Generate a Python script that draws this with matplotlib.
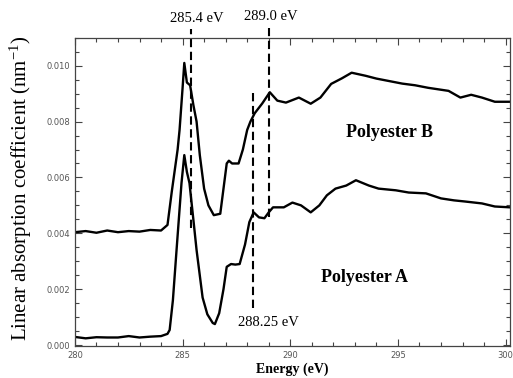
import matplotlib
matplotlib.use("Agg")
import matplotlib.pyplot as plt
from matplotlib.ticker import MultipleLocator

plt.rcParams["mathtext.fontset"] = "custom"
plt.rcParams["mathtext.rm"] = "Liberation Serif"
plt.rcParams["mathtext.it"] = "Liberation Serif:italic"
plt.rcParams["mathtext.bf"] = "Liberation Serif:bold"

# Polyester B (upper curve)
energy_b = [280.0, 280.5, 281.0, 281.5, 282.0, 282.5, 283.0, 283.5, 284.0, 284.3,
            284.5, 284.77, 284.86, 285.0, 285.08, 285.2, 285.35, 285.5, 285.65, 285.8,
            286.0, 286.2, 286.45, 286.75, 286.9, 287.05, 287.15, 287.3, 287.6, 287.8,
            288.0, 288.15, 288.35, 288.7, 289.05, 289.4, 289.8, 290.4, 290.95, 291.4,
            291.9, 292.4, 292.85, 293.5, 294.0, 294.6, 295.2, 295.8, 296.4, 297.35,
            297.9, 298.4, 298.9, 299.5, 300.2]
absorb_b = [0.00404, 0.00408, 0.00402, 0.00410, 0.00404, 0.00408, 0.00406, 0.00412, 0.00410, 0.00430,
            0.00550, 0.00700, 0.00770, 0.00920, 0.01010, 0.00940, 0.00930, 0.00860, 0.00800, 0.00680,
            0.00560, 0.00500, 0.00465, 0.00470, 0.00560, 0.00650, 0.00660, 0.00650, 0.00650, 0.00700,
            0.00770, 0.00800, 0.00830, 0.00865, 0.00905, 0.00875, 0.00868, 0.00886, 0.00864, 0.00886,
            0.00935, 0.00955, 0.00975, 0.00964, 0.00954, 0.00945, 0.00936, 0.00930, 0.00921, 0.00910,
            0.00886, 0.00896, 0.00886, 0.00871, 0.00871]

# Polyester A (lower curve)
energy_a = [280.0, 280.5, 281.0, 281.5, 282.0, 282.5, 283.0, 283.5, 284.0, 284.3,
            284.4, 284.55, 284.72, 284.95, 285.08, 285.2, 285.32, 285.5, 285.65, 285.93,
            286.15, 286.4, 286.5, 286.7, 286.9, 287.05, 287.25, 287.45, 287.65, 287.9,
            288.1, 288.3, 288.55, 288.8, 289.0, 289.2, 289.7, 290.1, 290.5, 290.95,
            291.35, 291.7, 292.1, 292.6, 293.05, 293.65, 294.1, 294.9, 295.5, 296.3,
            297.0, 297.6, 298.1, 298.9, 299.5, 300.2]
absorb_a = [0.00029, 0.00024, 0.00028, 0.00027, 0.00027, 0.00032, 0.00027, 0.00030, 0.00032, 0.00040,
            0.00054, 0.00160, 0.00340, 0.00580, 0.00680, 0.00620, 0.00580, 0.00450, 0.00340, 0.00170,
            0.00110, 0.00079, 0.00075, 0.00114, 0.00200, 0.00280, 0.00290, 0.00288, 0.00290, 0.00360,
            0.00440, 0.00475, 0.00457, 0.00454, 0.00475, 0.00493, 0.00493, 0.00510, 0.00500, 0.00475,
            0.00500, 0.00536, 0.00560, 0.00571, 0.00590, 0.00571, 0.00560, 0.00554, 0.00546, 0.00543,
            0.00525, 0.00518, 0.00514, 0.00507, 0.00496, 0.00493]

# marker lines: energy, bottom, top
marker_energy = [285.4, 289.0, 288.25]
marker_bottom = [0.0042, 0.0046, 0.00132]
marker_top = [0.01132, 0.01135, 0.00904]

serif = ["Liberation Serif", "DejaVu Serif"]

fig = plt.figure(figsize=(5.13, 3.78), dpi=100)
ax = fig.add_axes([0.146, 0.085, 0.848, 0.815])

ax.plot(energy_b, absorb_b, color="black", lw=1.7)
ax.plot(energy_a, absorb_a, color="black", lw=1.7)

for e, lo, hi in zip(marker_energy, marker_bottom, marker_top):
    ax.plot([e, e], [lo, hi], color="black", lw=1.5, ls=(0, (4, 2.2)), clip_on=False)

ax.text(285.65, 0.01168, "285.4 eV", ha="center", va="center", fontsize=10.5, family=serif)
ax.text(289.1, 0.01178, "289.0 eV", ha="center", va="center", fontsize=10.5, family=serif)
ax.text(289.0, 0.00079, "288.25 eV", ha="center", va="center", fontsize=10.5, family=serif)

ax.text(294.63, 0.0076, "Polyester B", ha="center", va="center", fontsize=13,
        fontweight="bold", family=serif)
ax.text(293.43, 0.00243, "Polyester A", ha="center", va="center", fontsize=13,
        fontweight="bold", family=serif)

ax.set_xlim(280, 300.2)
ax.set_ylim(-0.00003, 0.011)
ax.xaxis.set_major_locator(MultipleLocator(5))
ax.xaxis.set_minor_locator(MultipleLocator(1))
ax.yaxis.set_major_locator(MultipleLocator(0.002))
ax.yaxis.set_minor_locator(MultipleLocator(0.0005))
ax.yaxis.set_major_formatter(plt.FuncFormatter(lambda v, p: f"{v:.3f}"))
ax.tick_params(which="both", direction="in", top=True, right=True,
               labelsize=6, labelcolor="#555555", color="#444444", width=0.8)
ax.tick_params(which="major", length=5)
ax.tick_params(which="minor", length=3)
for s in ax.spines.values():
    s.set_color("#444444")
    s.set_linewidth(0.9)

ax.set_xlabel("Energy (eV)", fontsize=10, fontweight="bold", family=serif, labelpad=2)
ax.set_ylabel("Linear absorption coefficient (nm$^{-1}$)", fontsize=15, family=serif)
ax.yaxis.set_label_coords(-0.095, 0.51)

fig.savefig("out.png", dpi=100)
